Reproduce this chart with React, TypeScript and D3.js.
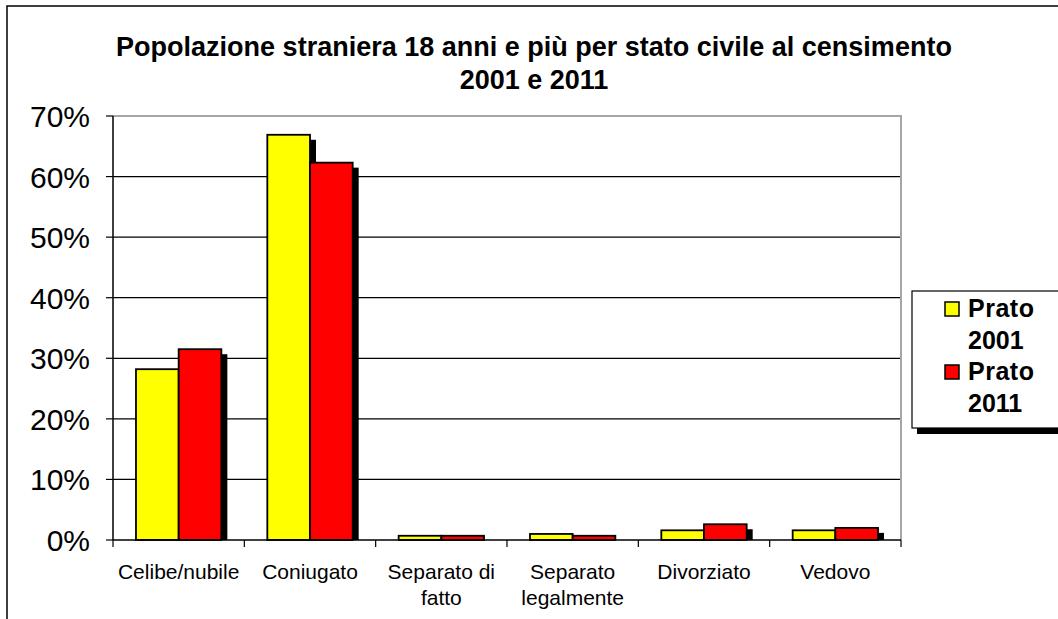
import React, { useEffect, useRef } from 'react';
import * as d3 from 'd3';

const categories = ['Celibe/nubile', 'Coniugato', 'Separato di fatto', 'Separato legalmente', 'Divorziato', 'Vedovo'];
const categoryLines = [['Celibe/nubile'], ['Coniugato'], ['Separato di', 'fatto'], ['Separato', 'legalmente'], ['Divorziato'], ['Vedovo']];
const seriesNames = ['Prato 2001', 'Prato 2011'];
const prato2001 = [28.2, 66.9, 0.7, 1.0, 1.6, 1.6];
const prato2011 = [31.5, 62.3, 0.7, 0.7, 2.6, 2.0];
const yTicks = [0, 10, 20, 30, 40, 50, 60, 70];
const colors = ['#ffff00', '#ff0000'];

const W = 1058;
const H = 619;

export default function App() {
  const ref = useRef<SVGSVGElement>(null);

  useEffect(() => {
    if (!ref.current) return;
    const svg = d3.select(ref.current);
    svg.selectAll('*').remove();

    const font = 'Liberation Sans, Arial, sans-serif';
    const left = 113, right = 901, top = 116, bottom = 540;

    // outer frame (runs off the right and bottom edges)
    svg.append('path')
      .attr('d', `M7,${H + 5} V6 H${W + 5}`)
      .attr('fill', 'none')
      .attr('stroke', '#000')
      .attr('stroke-width', 1.5);

    // title
    const title = svg.append('text')
      .attr('text-anchor', 'middle')
      .attr('font-family', font)
      .attr('font-weight', 'bold')
      .attr('font-size', 27)
      .attr('fill', '#000');
    title.append('tspan').attr('x', 534).attr('y', 56).text('Popolazione straniera 18 anni e più per stato civile al censimento');
    title.append('tspan').attr('x', 534).attr('y', 89).text('2001 e 2011');

    const y = d3.scaleLinear().domain([0, 70]).range([bottom, top]);
    const x0 = d3.scaleBand<string>().domain(categories).range([left, right]).paddingInner(0.35).paddingOuter(0.175);
    const x1 = d3.scaleBand<string>().domain(seriesNames).range([0, x0.bandwidth()]);

    // gridlines
    svg.append('g')
      .selectAll('line')
      .data(yTicks.filter(t => t > 0 && t < 70))
      .enter()
      .append('line')
      .attr('x1', left).attr('x2', right)
      .attr('y1', d => y(d)).attr('y2', d => y(d))
      .attr('stroke', '#000')
      .attr('stroke-width', 1.2);

    // plot border (top/right gray)
    svg.append('path')
      .attr('d', `M${left},${top} H${right} V${bottom}`)
      .attr('fill', 'none')
      .attr('stroke', '#a6a6a6')
      .attr('stroke-width', 2);

    // bars
    const values = [prato2001, prato2011];
    const groups = svg.append('g')
      .selectAll('g')
      .data(categories)
      .enter()
      .append('g')
      .attr('transform', d => `translate(${x0(d)},0)`);

    // shadows first
    seriesNames.forEach((s, si) => {
      groups.append('rect')
        .attr('x', x1(s)! + 6)
        .attr('y', (_, i) => Math.min(y(values[si][i]) + 5, bottom))
        .attr('width', x1.bandwidth())
        .attr('height', (_, i) => Math.max(0, bottom - Math.min(y(values[si][i]) + 5, bottom)))
        .attr('fill', '#000');
    });
    seriesNames.forEach((s, si) => {
      groups.append('rect')
        .attr('x', x1(s)!)
        .attr('y', (_, i) => y(values[si][i]))
        .attr('width', x1.bandwidth())
        .attr('height', (_, i) => bottom - y(values[si][i]))
        .attr('fill', colors[si])
        .attr('stroke', '#000')
        .attr('stroke-width', 1.8);
    });

    // y axis
    const yAxis = svg.append('g');
    yAxis.append('line')
      .attr('x1', left).attr('x2', left).attr('y1', top).attr('y2', bottom)
      .attr('stroke', '#000').attr('stroke-width', 1.5);
    yAxis.selectAll('line.tick')
      .data(yTicks)
      .enter()
      .append('line')
      .attr('class', 'tick')
      .attr('x1', left - 7).attr('x2', left)
      .attr('y1', d => y(d)).attr('y2', d => y(d))
      .attr('stroke', '#000').attr('stroke-width', 1.2);
    yAxis.selectAll('text')
      .data(yTicks)
      .enter()
      .append('text')
      .attr('x', 90)
      .attr('y', d => y(d) + 11)
      .attr('text-anchor', 'end')
      .attr('font-family', font)
      .attr('font-size', 30)
      .attr('fill', '#000')
      .text(d => `${d}%`);

    // x axis
    const xAxis = svg.append('g');
    xAxis.append('line')
      .attr('x1', left).attr('x2', right).attr('y1', bottom).attr('y2', bottom)
      .attr('stroke', '#000').attr('stroke-width', 1.5);
    const boundaries = categories.map(c => x0(c)! - x0.step() * 0.175).concat([right]);
    xAxis.selectAll('line.tick')
      .data(boundaries)
      .enter()
      .append('line')
      .attr('class', 'tick')
      .attr('x1', d => d).attr('x2', d => d)
      .attr('y1', bottom).attr('y2', bottom + 7)
      .attr('stroke', '#000').attr('stroke-width', 1.2);
    const labels = xAxis.selectAll('text')
      .data(categories)
      .enter()
      .append('text')
      .attr('text-anchor', 'middle')
      .attr('font-family', font)
      .attr('font-size', 21)
      .attr('fill', '#000');
    labels.each(function (d, i) {
      const t = d3.select(this);
      categoryLines[i].forEach((ln, li) => {
        t.append('tspan')
          .attr('x', x0(d)! + x0.bandwidth() / 2)
          .attr('y', 579 + li * 26)
          .text(ln);
      });
    });

    // legend
    const lg = svg.append('g');
    lg.append('rect')
      .attr('x', 917).attr('y', 296).attr('width', 160).attr('height', 138)
      .attr('fill', '#000');
    lg.append('rect')
      .attr('x', 912).attr('y', 291).attr('width', 160).attr('height', 137)
      .attr('fill', '#fff').attr('stroke', '#000').attr('stroke-width', 1.2);
    seriesNames.forEach((s, si) => {
      const base = 317 + si * 63;
      lg.append('rect')
        .attr('x', 945).attr('y', base - 15).attr('width', 14).attr('height', 14)
        .attr('fill', colors[si]).attr('stroke', '#000').attr('stroke-width', 1.5);
      const parts = s.split(' ');
      lg.append('text')
        .attr('x', 968).attr('y', base)
        .attr('font-family', font).attr('font-weight', 'bold').attr('font-size', 25)
        .attr('letter-spacing', 0.5)
        .text(parts[0]);
      lg.append('text')
        .attr('x', 968).attr('y', base + 32)
        .attr('font-family', font).attr('font-weight', 'bold').attr('font-size', 25)
        .text(parts[1]);
    });
  }, []);

  return (
    <svg
      ref={ref}
      width={W}
      height={H}
      style={{ position: 'absolute', left: 0, top: 0, background: '#fff' }}
    />
  );
}
